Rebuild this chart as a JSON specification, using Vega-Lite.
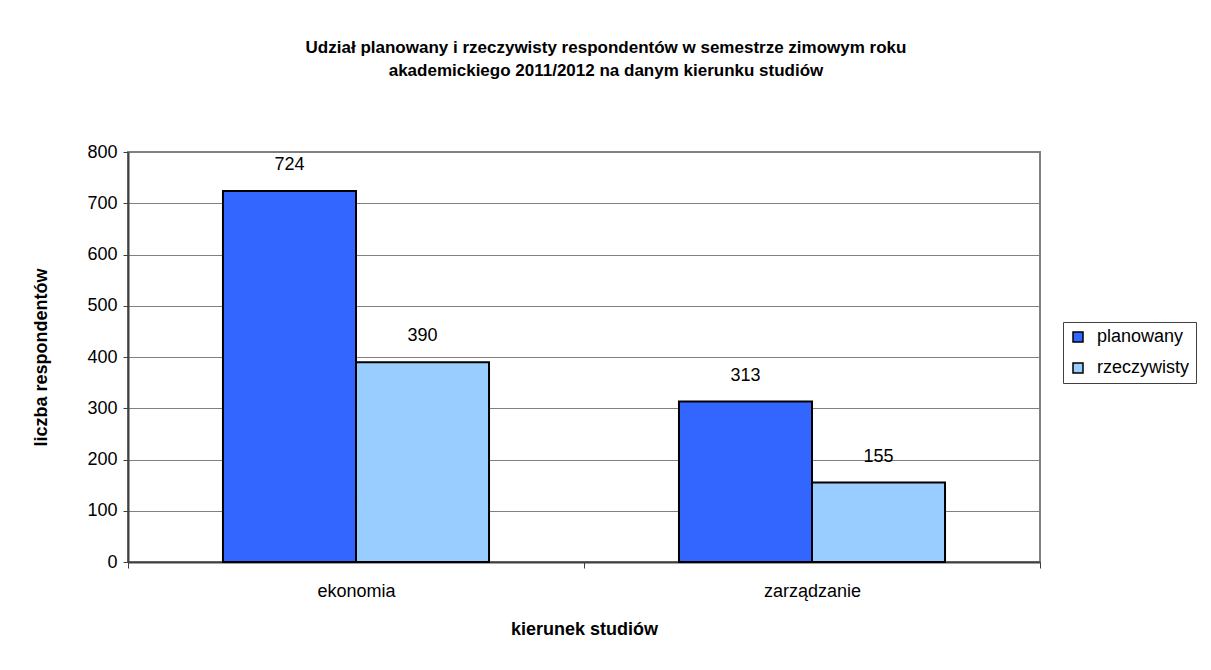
{
  "$schema": "https://vega.github.io/schema/vega-lite/v6.json",
  "width": 912,
  "height": 410,
  "autosize": {"type": "none"},
  "padding": {"left": 128, "top": 152, "right": 171, "bottom": 108},
  "background": "white",
  "title": {
    "text": ["Udział planowany i rzeczywisty respondentów w semestrze zimowym roku", "akademickiego 2011/2012 na danym kierunku studiów"],
    "font": "Liberation Sans",
    "fontSize": 17,
    "fontWeight": "bold",
    "color": "black",
    "anchor": "middle",
    "frame": "group",
    "dx": 22,
    "lineHeight": 23,
    "offset": 63
  },
  "data": {
    "values": [
      {"kierunek": "ekonomia", "typ": "planowany", "liczba": 724},
      {"kierunek": "ekonomia", "typ": "rzeczywisty", "liczba": 390},
      {"kierunek": "zarządzanie", "typ": "planowany", "liczba": 313},
      {"kierunek": "zarządzanie", "typ": "rzeczywisty", "liczba": 155}
    ]
  },
  "encoding": {
    "x": {
      "field": "kierunek",
      "type": "nominal",
      "sort": null,
      "scale": {"paddingInner": 0, "paddingOuter": 0},
      "axis": {
        "title": "kierunek studiów",
        "labelAngle": 0,
        "tickBand": "extent",
        "tickSize": 6,
        "labelPadding": 14,
        "titlePadding": 20,
        "domainColor": "#404040",
        "domainWidth": 2,
        "tickColor": "#404040"
      }
    },
    "xOffset": {
      "field": "typ",
      "type": "nominal",
      "scale": {"paddingInner": 0, "paddingOuter": 0.714}
    },
    "y": {
      "field": "liczba",
      "type": "quantitative",
      "scale": {"domain": [0, 800]},
      "axis": {
        "title": "liczba respondentów",
        "values": [0, 100, 200, 300, 400, 500, 600, 700, 800],
        "tickSize": 5,
        "labelPadding": 6,
        "titlePadding": 36,
        "domainColor": "#404040",
        "domainWidth": 2,
        "tickColor": "#404040",
        "gridColor": "#808080",
        "gridWidth": 1
      }
    }
  },
  "layer": [
    {
      "mark": {"type": "bar", "stroke": "black", "strokeWidth": 2},
      "encoding": {
        "color": {
          "field": "typ",
          "type": "nominal",
          "scale": {"domain": ["planowany", "rzeczywisty"], "range": ["#3366FF", "#99CCFF"]},
          "legend": {
            "title": null,
            "orient": "none",
            "legendX": 935,
            "legendY": 170,
            "strokeColor": "#404040",
            "padding": 6,
            "symbolType": "square",
            "symbolSize": 100,
            "symbolStrokeColor": "black",
            "symbolStrokeWidth": 1.5,
            "rowPadding": 13,
            "labelOffset": 10
          }
        }
      }
    },
    {
      "mark": {"type": "text", "baseline": "middle", "dy": -26, "fontSize": 18, "font": "Liberation Sans", "color": "black"},
      "encoding": {"text": {"field": "liczba", "type": "quantitative"}}
    }
  ],
  "config": {
    "font": "Liberation Sans",
    "view": {"stroke": "#808080", "strokeWidth": 2},
    "axis": {
      "labelFont": "Liberation Sans",
      "labelFontSize": 18,
      "labelColor": "black",
      "titleFont": "Liberation Sans",
      "titleFontSize": 18,
      "titleFontWeight": "bold",
      "titleColor": "black"
    },
    "legend": {
      "labelFont": "Liberation Sans",
      "labelFontSize": 18,
      "labelColor": "black"
    }
  }
}
